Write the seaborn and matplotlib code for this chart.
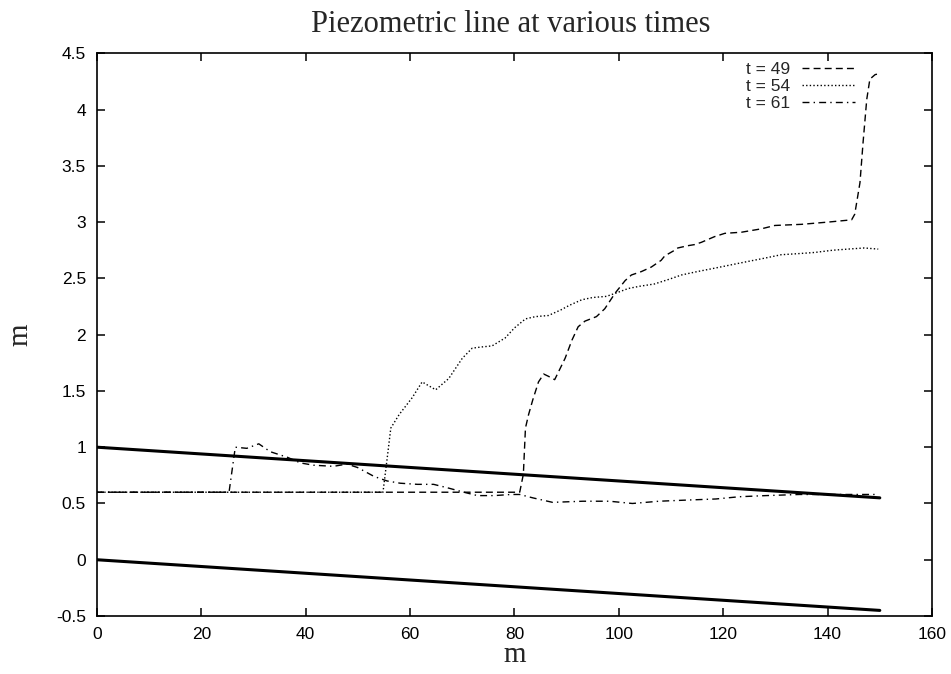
import matplotlib
matplotlib.use("Agg")
import matplotlib.pyplot as plt
import seaborn as sns

# ---- data ----
x49 = [0, 81, 81.7, 82.1, 82.7, 83.5, 84.6, 85.6, 86.5, 87.7, 89.7, 91, 92.2, 93.5, 95.7,
       97.3, 99.3, 101.2, 102.4, 104.3, 106.2, 108.1, 108.8, 110.7, 111.3, 113.2, 114.5,
       115.8, 118.3, 120.3, 123.5, 127.3, 129.9, 135, 140.1, 144.6, 145.2, 146.2, 146.8,
       147.5, 148.1, 149.1, 150]
y49 = [0.6, 0.6, 0.76, 1.17, 1.29, 1.42, 1.58, 1.65, 1.63, 1.6, 1.79, 1.95, 2.07, 2.12, 2.16,
       2.23, 2.37, 2.48, 2.53, 2.56, 2.60, 2.66, 2.70, 2.75, 2.77, 2.79, 2.80,
       2.82, 2.87, 2.90, 2.91, 2.94, 2.97, 2.98, 3.0, 3.02, 3.07, 3.35, 3.71,
       4.09, 4.27, 4.31, 4.32]

x54 = [0, 54.8, 55.6, 56.3, 57.9, 60.4, 62.3, 64.9, 67.4, 70, 71.9, 73.6, 75.7, 78.2, 80,
       82.1, 84, 86.5, 88.9, 90.5, 92.9, 95, 97.6, 99.5, 101.8, 104, 106.8, 109.5, 112, 115,
       118.3, 121.5, 124.7, 128, 131.1, 134.5, 137.5, 141, 143.9, 147, 149.7]
y54 = [0.6, 0.6, 0.9, 1.17, 1.29, 1.44, 1.58, 1.51, 1.61, 1.79, 1.88, 1.89, 1.90, 1.97, 2.06,
       2.14, 2.16, 2.17, 2.22, 2.26, 2.31, 2.33, 2.34, 2.37, 2.41, 2.43, 2.45, 2.49, 2.53, 2.56,
       2.59, 2.62, 2.65, 2.68, 2.71, 2.72, 2.73, 2.75, 2.76, 2.77, 2.76]

x61 = [0, 25.3, 26.5, 28.7, 31, 33.2, 36.5, 39, 41.5, 45.3, 47.9, 49.9, 53.1, 55.6, 58.1,
       61.4, 64.5, 67.1, 70.3, 72.9, 76.1, 79.3, 81, 83.5, 87.3, 93.1, 98.2, 102.6, 107.7,
       112.9, 118.6, 123.1, 128.2, 134.6, 141, 149.3]
y61 = [0.6, 0.6, 1.0, 0.99, 1.03, 0.96, 0.91, 0.86, 0.84, 0.83, 0.85, 0.82, 0.74, 0.70, 0.68,
       0.67, 0.67, 0.64, 0.60, 0.57, 0.57, 0.58, 0.58, 0.55, 0.51, 0.52, 0.52, 0.50, 0.52,
       0.53, 0.54, 0.56, 0.57, 0.58, 0.58, 0.58]

x_bank = [0, 150]
y_top = [1.0, 0.55]
y_bottom = [0.0, -0.45]

series_labels = ["t = 49", "t = 54", "t = 61"]
x_ticks = [0, 20, 40, 60, 80, 100, 120, 140, 160]
y_ticks = [-0.5, 0, 0.5, 1, 1.5, 2, 2.5, 3, 3.5, 4, 4.5]
y_tick_labels = ["-0.5", "0", "0.5", "1", "1.5", "2", "2.5", "3", "3.5", "4", "4.5"]

# ---- plot ----
sns.set_style("ticks")
plt.rcParams["font.family"] = ["Liberation Sans", "DejaVu Sans"]
serif = ["Liberation Serif", "DejaVu Serif"]

fig = plt.figure(figsize=(9.51, 6.74), dpi=100)
ax = fig.add_axes([0.102, 0.086, 0.878, 0.835])

styles = [(5, 3), (1, 1.6), (5, 3, 1, 3)]
for xs, ys, lab, dsh in zip([x49, x54, x61], [y49, y54, y61], series_labels, styles):
    sns.lineplot(x=xs, y=ys, ax=ax, color="black", lw=1.0,
                 estimator=None, sort=False, label=lab)
    ax.lines[-1].set_dashes(dsh)

for yb in (y_top, y_bottom):
    sns.lineplot(x=x_bank, y=yb, ax=ax, color="black", lw=2.2,
                 estimator=None, sort=False, label="_nolegend_")

ax.set_xlim(0, 160)
ax.set_ylim(-0.5, 4.5)
ax.set_xticks(x_ticks)
ax.set_xticklabels([str(t) for t in x_ticks])
ax.set_yticks(y_ticks)
ax.set_yticklabels(y_tick_labels)
ax.tick_params(direction="in", length=6, width=1.1, top=True, right=True,
               labelsize=12.5, pad=8, colors="black")
for s in ax.spines.values():
    s.set_visible(True)
    s.set_linewidth(1.2)
    s.set_color("black")

ax.set_xlabel("m", fontsize=21, family=serif, labelpad=0)
ax.set_ylabel("m", fontsize=21, family=serif, labelpad=16)
fig.text(0.537, 0.964, "Piezometric line at various times", ha="center", va="center",
         fontsize=22, family=serif)

leg = ax.legend(loc="upper right", bbox_to_anchor=(0.908, 0.985), frameon=False,
                markerfirst=False, fontsize=12.5, handlelength=3.05,
                labelspacing=0.1, handletextpad=0.7, borderaxespad=0.0,
                borderpad=0.0)
for h, dsh in zip(leg.get_lines(), styles):
    h.set_dashes(dsh)

fig.savefig("out.png", dpi=100, facecolor="white")
